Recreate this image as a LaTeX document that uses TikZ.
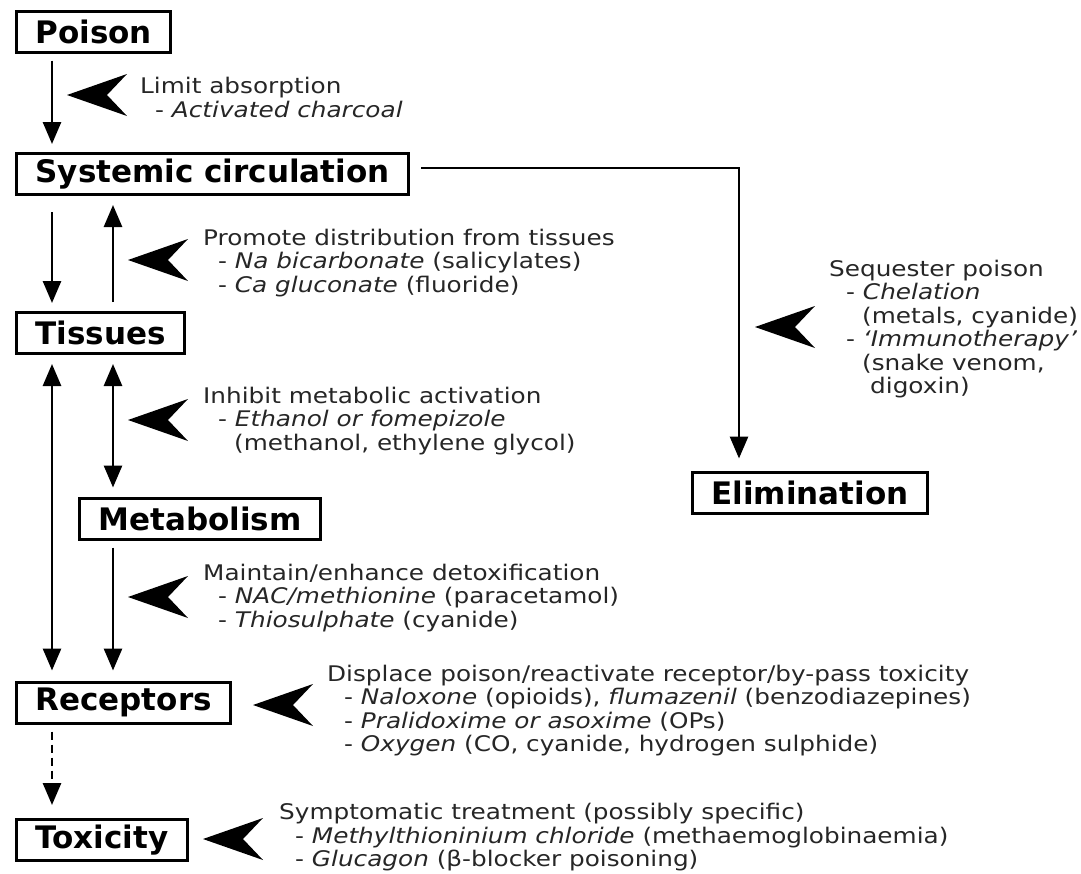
\documentclass[tikz,border=0pt]{standalone}
\usepackage{fontspec}
\setmainfont{DejaVu Sans}[FakeStretch=1.15]
\newfontfamily\boxfont{DejaVu Sans}
\usetikzlibrary{arrows.meta}

\begin{document}
\begin{tikzpicture}[x=1pt, y=-1pt, box/.style={draw, line width=3pt, anchor=west, minimum height=41pt, inner xsep=19pt, inner ysep=0pt, font=\boxfont\bfseries\fontsize{31}{36}\selectfont}, lbl/.style={anchor=north west, inner sep=0pt, align=left, text=black!85, font=\fontsize{21.5}{23.5}\selectfont}, arr/.style={-{Triangle[length=22pt,width=18pt]}, line width=2.8pt, shorten <=7pt, shorten >=8pt}, dbl/.style={{Triangle[length=22pt,width=18pt]}-{Triangle[length=22pt,width=18pt]}, line width=2.8pt, shorten <=9pt, shorten >=9pt}, chev/.pic={\fill (0,0) -- (60,-21) -- (40,0) -- (60,21) -- cycle;}]
\fill[white] (0,0) rectangle (1081,873);
\useasboundingbox (0,0) rectangle (1081,873);
% columns of the vertical arrows
\coordinate (colA) at (52,0);
\coordinate (colB) at (113,0);
\coordinate (colE) at (739,0);
\node[box] (poison) at (15,31.5) {Poison};
\node[box] (sys) at (15,174) {Systemic circulation};
\node[box] (tis) at (15,333) {Tissues};
\node[box] (met) at (78,518.5) {Metabolism};
\node[box] (elim) at (691,492.5) {Elimination};
\node[box] (rec) at (15,702.5) {Receptors};
\node[box] (tox) at (15,840) {Toxicity};
% antidote actions
\pic at (67,95) {chev};
\pic at (128,260) {chev};
\pic at (128,420) {chev};
\pic at (128,597) {chev};
\pic at (253,705) {chev};
\pic at (203,839) {chev};
\pic at (755,327) {chev};
\node[lbl] (absorb) at (140,77) {Limit absorption\\\hspace*{15pt}- \textit{Activated charcoal}};
\node[lbl] (distrib) at (203,228.5) {Promote distribution from tissues\\\hspace*{15pt}- \textit{Na bicarbonate} (salicylates)\\\hspace*{15pt}- \textit{Ca gluconate} (fluoride)};
\node[lbl] (inhibit) at (203,386.5) {Inhibit metabolic activation\\\hspace*{15pt}- \textit{Ethanol or fomepizole}\\\hspace*{31pt}(methanol, ethylene glycol)};
\node[lbl] (detox) at (203,563.5) {Maintain/enhance detoxification\\\hspace*{15pt}- \textit{NAC/methionine} (paracetamol)\\\hspace*{15pt}- \textit{Thiosulphate} (cyanide)};
\node[lbl] (displace) at (327,664.5) {Displace poison/reactivate receptor/by-pass toxicity\\\hspace*{17pt}- \textit{Naloxone} (opioids), \textit{flumazenil} (benzodiazepines)\\\hspace*{17pt}- \textit{Pralidoxime or asoxime} (OPs)\\\hspace*{17pt}- \textit{Oxygen} (CO, cyanide, hydrogen sulphide)};
\node[lbl] (sympt) at (279,803) {Symptomatic treatment (possibly specific)\\\hspace*{16pt}- \textit{Methylthioninium chloride} (methaemoglobinaemia)\\\hspace*{16pt}- \textit{Glucagon} (β-blocker poisoning)};
\node[lbl] (seq) at (829,259.5) {Sequester poison\\\hspace*{17pt}- \textit{Chelation}\\\hspace*{33pt}(metals, cyanide)\\\hspace*{17pt}- \textit{‘Immunotherapy’}\\\hspace*{33pt}(snake venom,\\\hspace*{41pt}digoxin)};
% flow of the poison
\draw[arr] (poison.south -| colA) -- (sys.north -| colA);
\draw[arr, shorten <=16pt] (sys.south -| colA) -- (tis.north -| colA);
\draw[arr, shorten <=9pt, shorten >=9pt] (tis.north -| colB) -- (sys.south -| colB);
\draw[dbl, shorten >=10pt] (tis.south -| colA) -- (rec.north -| colA);
\draw[dbl] (tis.south -| colB) -- (met.north -| colB);
\draw[arr, shorten >=10pt] (met.south -| colB) -- (rec.north -| colB);
\draw[arr, dash pattern=on 8pt off 5pt, shorten >=13pt] (rec.south -| colA) -- (tox.north -| colA);
\draw[arr, shorten <=0pt, shorten >=12pt] ([xshift=11pt,yshift=6pt]sys.east) -| (elim.north -| colE);
\end{tikzpicture}
\end{document}
